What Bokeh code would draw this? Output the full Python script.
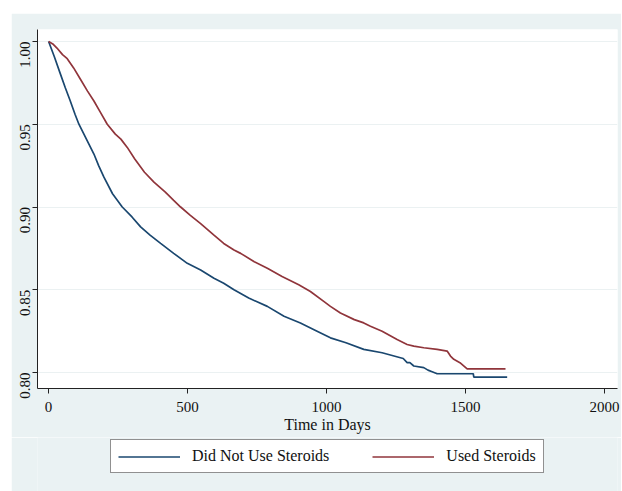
import math
from bokeh.plotting import figure
from bokeh.layouts import column
from bokeh.models import Range1d, FixedTicker, Legend, LegendItem
from bokeh.embed import file_html
from bokeh.resources import INLINE

# Kaplan-Meier estimates
days_no_steroids = [0, 20, 41, 60, 77, 95, 109, 127, 145, 163, 180, 199, 230, 265, 300,
                    331, 365, 403, 450, 499, 547, 595, 630, 667, 720, 787, 847, 906, 966,
                    1014, 1070, 1134, 1200, 1266, 1276, 1290, 1300, 1314, 1350, 1365,
                    1380, 1398, 1528, 1530, 1650]
surv_no_steroids = [1.000, 0.991, 0.981, 0.972, 0.9645, 0.956, 0.950, 0.944, 0.938, 0.932,
                    0.925, 0.918, 0.908, 0.900, 0.894, 0.888, 0.883, 0.878, 0.872, 0.866,
                    0.862, 0.857, 0.854, 0.850, 0.845, 0.840, 0.834, 0.830, 0.825, 0.821,
                    0.818, 0.814, 0.812, 0.809, 0.8085, 0.806, 0.806, 0.804, 0.803, 0.8015,
                    0.8005, 0.7993, 0.7993, 0.7973, 0.7973]

days_steroids = [0, 15, 30, 50, 67, 90, 115, 140, 163, 187, 211, 240, 260, 283, 310, 345,
                 379, 420, 450, 475, 510, 547, 595, 630, 667, 691, 740, 787, 840, 900, 942,
                 990, 1014, 1050, 1100, 1134, 1158, 1200, 1254, 1290, 1314, 1350, 1398,
                 1434, 1446, 1458, 1480, 1506, 1644]
surv_steroids = [1.000, 0.9985, 0.996, 0.992, 0.9896, 0.984, 0.977, 0.970, 0.964, 0.957,
                 0.950, 0.944, 0.941, 0.936, 0.929, 0.921, 0.915, 0.909, 0.904, 0.900,
                 0.895, 0.890, 0.883, 0.878, 0.874, 0.872, 0.867, 0.863, 0.858, 0.853,
                 0.849, 0.843, 0.840, 0.836, 0.832, 0.830, 0.828, 0.825, 0.820, 0.817,
                 0.816, 0.815, 0.814, 0.813, 0.810, 0.808, 0.806, 0.8022, 0.8022]

x_ticks = [0, 500, 1000, 1500, 2000]
y_ticks = [0.80, 0.85, 0.90, 0.95, 1.00]
y_tick_labels = ["0.80", "0.85", "0.90", "0.95", "1.00"]
series_labels = ["Did Not Use Steroids", "Used Steroids"]
series_colors = ["#1A476F", "#90353B"]
x_title = "Time in Days"

SERIF = "Liberation Serif"
BG = "#EAF2F3"
INK = "#111111"

# ---- main plot -------------------------------------------------------------
p = figure(width=610, height=424, output_backend="svg", toolbar_location=None,
           x_range=Range1d(-40, 2047), y_range=Range1d(0.7904, 1.0072),
           min_border_left=26, min_border_right=4, min_border_top=16,
           min_border_bottom=49, background_fill_color="white",
           border_fill_color=BG)
p.outline_line_color = None

p.xaxis.ticker = FixedTicker(ticks=x_ticks)
p.yaxis.ticker = FixedTicker(ticks=y_ticks)
p.yaxis.major_label_overrides = {t: s for t, s in zip(y_ticks, y_tick_labels)}
p.yaxis.major_label_orientation = math.pi / 2
for ax in (p.xaxis[0], p.yaxis[0]):
    ax.axis_line_color = "#222222"
    ax.axis_line_width = 1
    ax.major_tick_line_color = "#222222"
    ax.major_tick_in = 0
    ax.major_tick_out = 5
    ax.minor_tick_line_color = None
    ax.major_label_text_font = SERIF
    ax.major_label_text_font_size = "15px"
    ax.major_label_text_color = INK
p.xaxis.major_label_standoff = 8
p.yaxis.major_label_standoff = 7
p.xaxis.axis_label = x_title
p.xaxis.axis_label_text_font = SERIF
p.xaxis.axis_label_text_font_style = "normal"
p.xaxis.axis_label_text_font_size = "16px"
p.xaxis.axis_label_text_color = INK
p.xaxis.axis_label_standoff = 1

p.xgrid.visible = False
p.ygrid.ticker = FixedTicker(ticks=y_ticks)
p.ygrid.grid_line_color = "#EBF1F2"
p.ygrid.grid_line_width = 1

p.line(days_no_steroids, surv_no_steroids, color=series_colors[0], line_width=1.7)
p.line(days_steroids, surv_steroids, color=series_colors[1], line_width=1.7)

# ---- legend strip ------------------------------------------------------------
q = figure(width=610, height=54, output_backend="svg", toolbar_location=None,
           x_axis_type=None, y_axis_type=None,
           x_range=Range1d(-100, -50), y_range=Range1d(0, 1),
           min_border_left=0, min_border_right=0, min_border_top=0,
           min_border_bottom=0, background_fill_color=BG, border_fill_color=BG)
q.outline_line_color = None
q.xgrid.visible = False
q.ygrid.visible = False
g1 = q.line(days_no_steroids, surv_no_steroids, color=series_colors[0], line_width=1.7)
g2 = q.line(days_steroids, surv_steroids, color=series_colors[1], line_width=1.7)

legend = Legend(items=[LegendItem(label=series_labels[0], renderers=[g1]),
                       LegendItem(label=series_labels[1], renderers=[g2])],
                orientation="horizontal", location=(73, 18))
legend.label_text_font = SERIF
legend.label_text_font_size = "16px"
legend.label_text_color = INK
legend.label_height = 17
legend.glyph_width = 62
legend.glyph_height = 15
legend.label_standoff = 12
legend.spacing = 43
legend.padding = 7
legend.border_line_color = "#222222"
legend.border_line_width = 1
legend.background_fill_color = "white"
legend.background_fill_alpha = 1
q.add_layout(legend, "center")

layout = column(p, q, spacing=0, margin=(13, 1, 0, 11))

open("out.html", "w").write(file_html(layout, INLINE))
